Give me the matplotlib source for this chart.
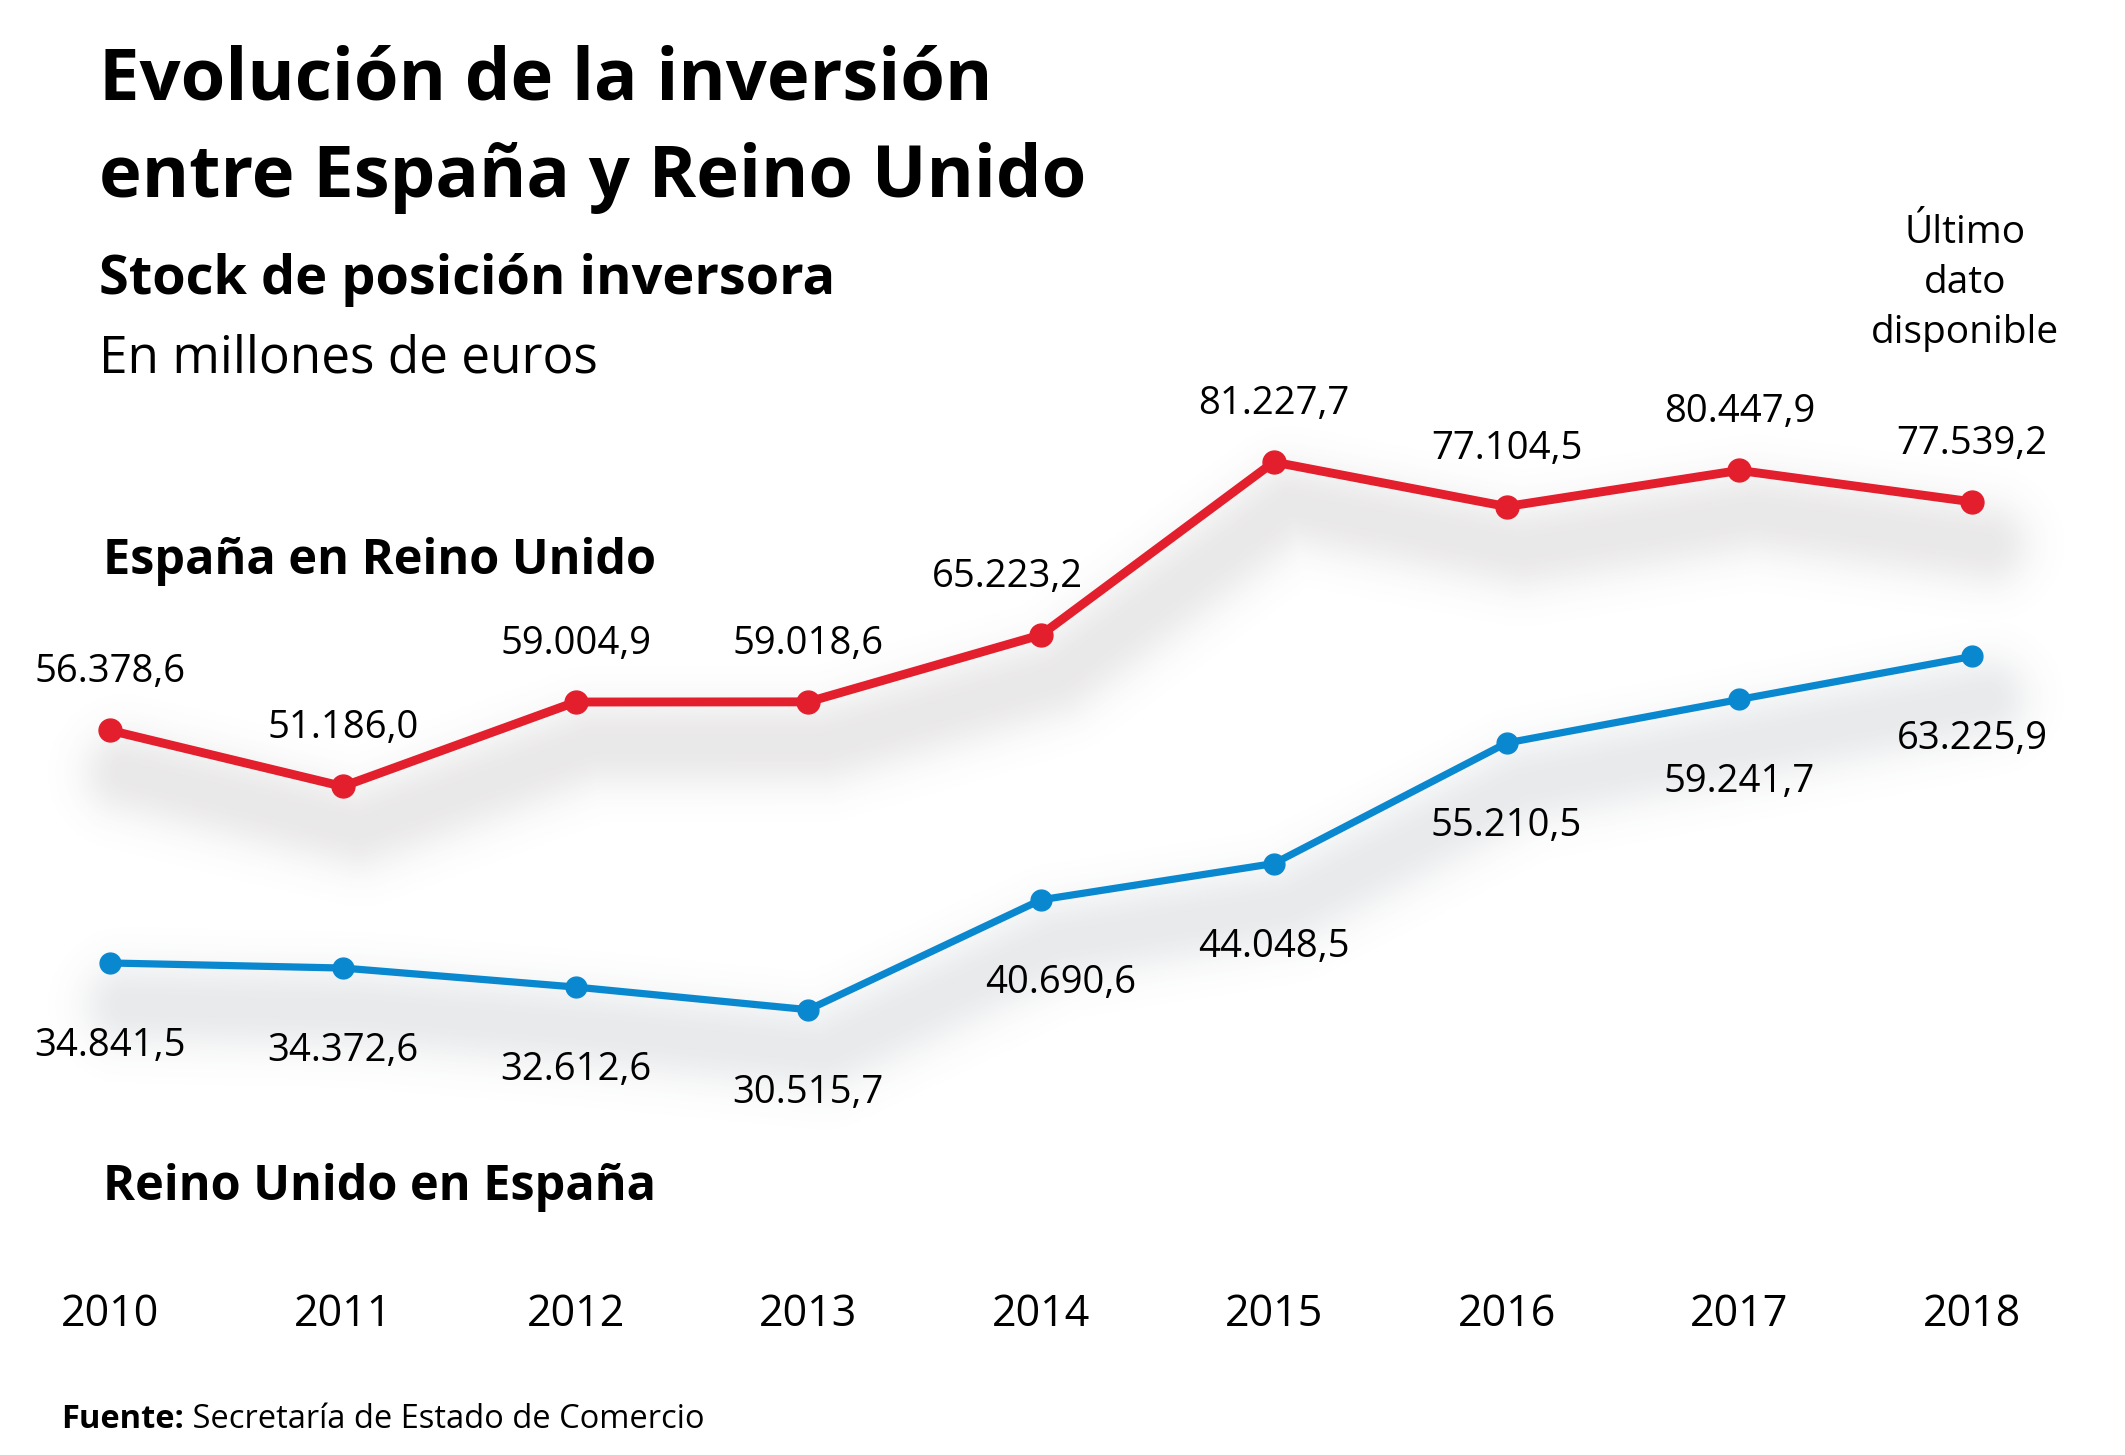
import numpy as np
import matplotlib
matplotlib.use('Agg')
import matplotlib.pyplot as plt

years = [2010, 2011, 2012, 2013, 2014, 2015, 2016, 2017, 2018]
espana_en_ru = [56378.6, 51186.0, 59004.9, 59018.6, 65223.2, 81227.7, 77104.5, 80447.9, 77539.2]
ru_en_espana = [34841.5, 34372.6, 32612.6, 30515.7, 40690.6, 44048.5, 55210.5, 59241.7, 63225.9]

title_lines = ['Evolución de la inversión', 'entre España y Reino Unido']
subtitle = 'Stock de posición inversora'
units = 'En millones de euros'
source = 'Secretaría de Estado de Comercio'

RED = '#e31e2d'
BLUE = '#0a88cf'
W, H = 2125, 1455

plt.rcParams['font.family'] = ['Open Sans', 'DejaVu Sans']


def fmt(v):
    # 56,378.6 -> 56.378,6
    s = f'{v:,.1f}'
    return s.replace(',', '#').replace('.', ',').replace('#', '.')


def shadow(ax, xs, ys, rgb, dx=16, dy=-42, sigma=27, amax=0.14):
    # soft drop shadow: gaussian falloff of the distance to the shifted polyline
    pts = ax.transData.transform(np.column_stack([xs, ys]))
    pts = pts + np.array([dx, dy])
    step = 3
    gx = np.arange(0, W, step) + step / 2
    gy = np.arange(0, H, step) + step / 2
    X, Y = np.meshgrid(gx, gy)
    d = np.full(X.shape, np.inf)
    for (x0, y0), (x1, y1) in zip(pts[:-1], pts[1:]):
        ex, ey = x1 - x0, y1 - y0
        t = np.clip(((X - x0) * ex + (Y - y0) * ey) / (ex * ex + ey * ey), 0, 1)
        d = np.minimum(d, np.hypot(X - x0 - t * ex, Y - y0 - t * ey))
    d = np.maximum(d - 6, 0)
    img = np.zeros(X.shape + (4,))
    img[..., :3] = rgb
    img[..., 3] = amax * np.exp(-d ** 2 / (2 * sigma ** 2))
    x0, x1 = ax.get_xlim()
    y0, y1 = ax.get_ylim()
    ax.imshow(img, extent=(x0, x1, y0, y1), origin='lower', aspect='auto',
              interpolation='bilinear', zorder=1)


fig = plt.figure(figsize=(W / 100, H / 100), dpi=100)
ax = fig.add_axes([0, 0, 1, 1])
xlim = (2009.527, 2018.657)
ylim = (-10716, 124006)
ax.set_xlim(*xlim)
ax.set_ylim(*ylim)
ax.axis('off')

shadow(ax, years, espana_en_ru, (0.42, 0.38, 0.38))
shadow(ax, years, ru_en_espana, (0.38, 0.42, 0.46))
ax.set_xlim(*xlim)
ax.set_ylim(*ylim)

ax.plot(years, espana_en_ru, color=RED, lw=6.4, marker='o', ms=16.5,
        solid_joinstyle='round', zorder=3)
ax.plot(years, ru_en_espana, color=BLUE, lw=5.2, marker='o', ms=15,
        solid_joinstyle='round', zorder=3)

for yr, v in zip(years, espana_en_ru):
    dx = -34 if yr == 2014 else 0
    ax.annotate(fmt(v), (yr, v), xytext=(dx, 58), textcoords='offset pixels',
                ha='center', va='center', fontsize=27.5, zorder=4)
for yr, v in zip(years, ru_en_espana):
    dx = 20 if yr == 2014 else 0
    ax.annotate(fmt(v), (yr, v), xytext=(dx, -83), textcoords='offset pixels',
                ha='center', va='center', fontsize=27.5, zorder=4)

# year labels along the bottom
for yr in years:
    xp = ax.transData.transform((yr, 0))[0]
    fig.text(xp / W, 1 - 1315 / H, str(yr), fontsize=31, ha='center', va='center')

fig.text(99 / W, 1 - 80 / H, title_lines[0], fontsize=52, fontweight='bold',
         ha='left', va='center')
fig.text(99 / W, 1 - 178 / H, title_lines[1], fontsize=52, fontweight='bold',
         ha='left', va='center')
fig.text(99 / W, 1 - 280 / H, subtitle, fontsize=39, fontweight='bold',
         ha='left', va='center')
fig.text(99 / W, 1 - 359 / H, units, fontsize=37, ha='left', va='center')

fig.text(103 / W, 1 - 561 / H, 'España en Reino Unido', fontsize=35,
         fontweight='bold', ha='left', va='center')
fig.text(103 / W, 1 - 1188 / H, 'Reino Unido en España', fontsize=35,
         fontweight='bold', ha='left', va='center')

fig.text(1965 / W, 1 - 283 / H, 'Último\ndato\ndisponible', fontsize=28,
         ha='center', va='center', linespacing=1.4)

t1 = fig.text(61 / W, 1 - 1420 / H, 'Fuente:', fontsize=23.5, fontweight='bold',
              ha='left', va='center')
ax.annotate(' ' + source, xy=(1, 0), xycoords=t1, fontsize=23.5,
            ha='left', va='bottom')

fig.savefig('out.png', dpi=100)
